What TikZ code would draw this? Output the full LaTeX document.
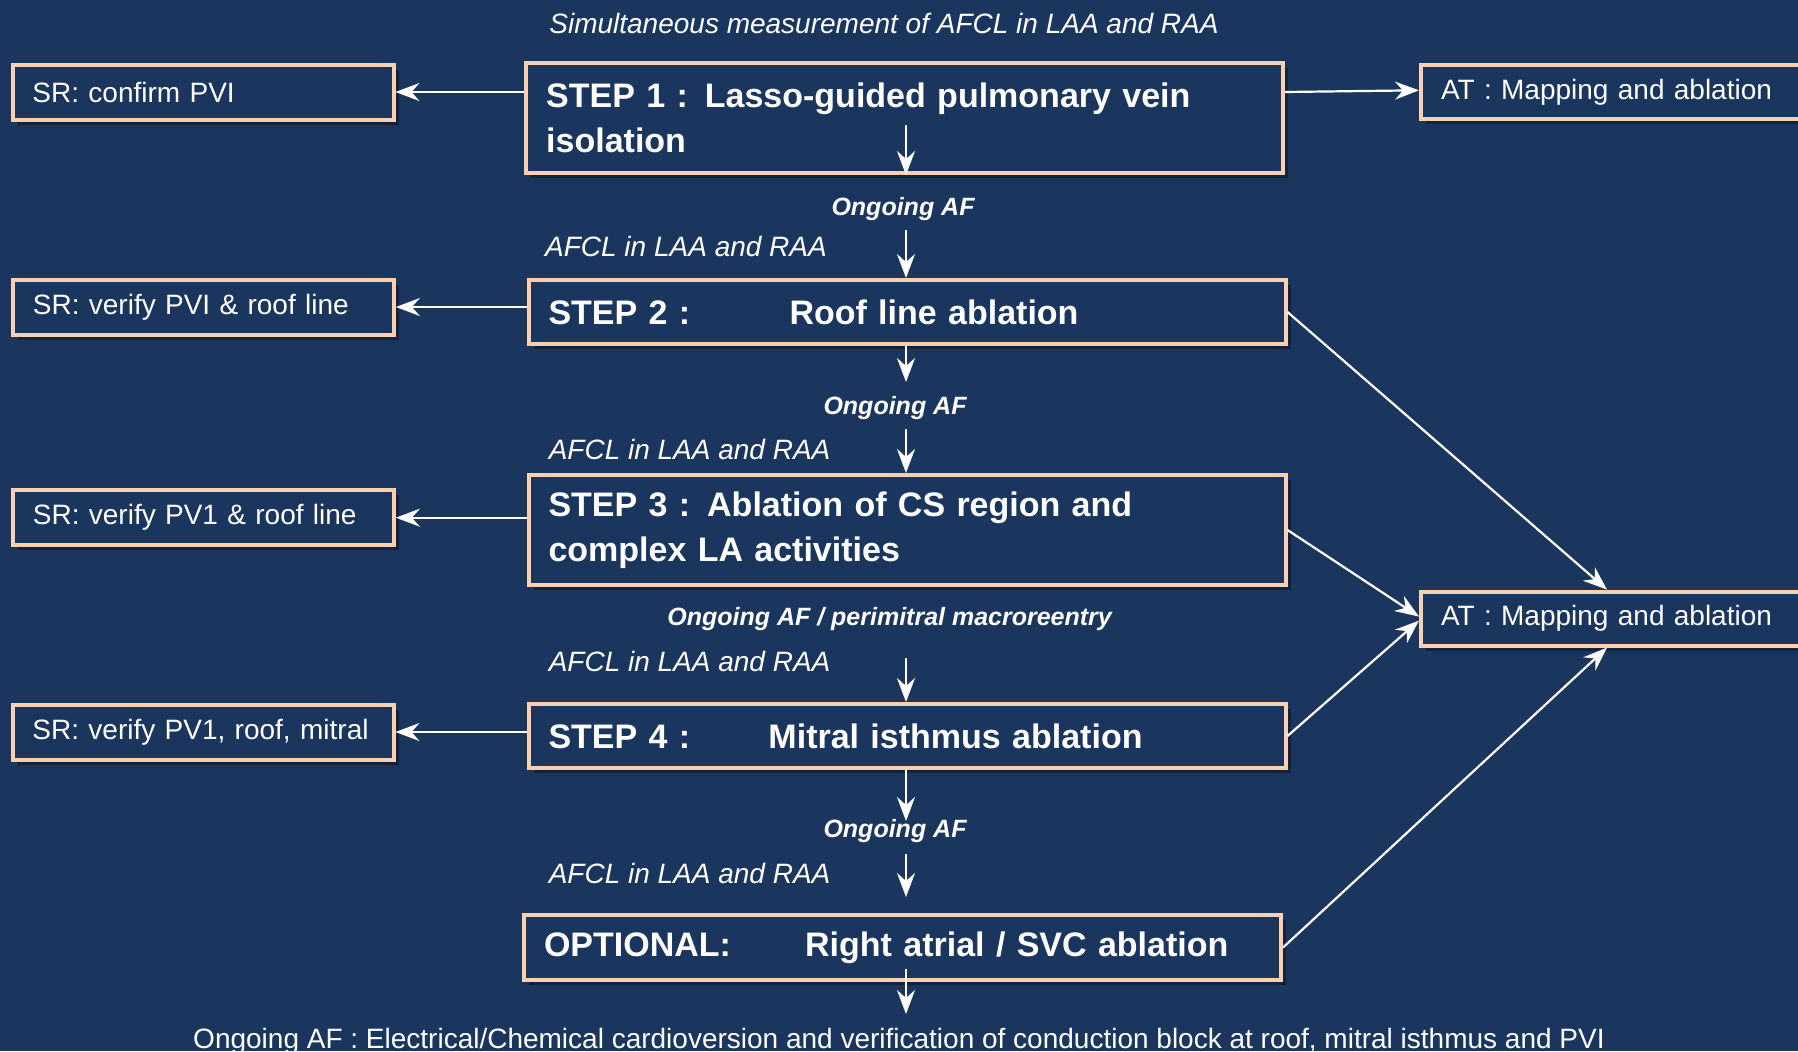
\documentclass[tikz,border=0pt]{standalone}
\usepackage{fontspec}
\setmainfont{Liberation Sans}
\usetikzlibrary{arrows.meta,shadows,calc}
\definecolor{bg}{RGB}{27,54,94}
\definecolor{peach}{RGB}{250,208,176}
\begin{document}
\begin{tikzpicture}[x=0.5pt,y=-0.5pt,
  box/.style={draw=peach, line width=2pt, fill=bg, text=white, inner xsep=10pt, inner ysep=0pt, align=left, anchor=center,
    drop shadow={shadow xshift=2.5pt, shadow yshift=-2.5pt, fill=black, opacity=0.35}},
  stepbox/.style={box, text width=358.5pt, font=\fontsize{17}{22.5}\selectfont\bfseries},
  srbox/.style={box, text width=170.5pt, minimum height=27.5pt, font=\fontsize{14}{17}\selectfont},
  atbox/.style={box, text width=200pt, minimum height=27pt, font=\fontsize{14}{17}\selectfont},
  lbl/.style={text=white, inner sep=0pt, font=\fontsize{14}{17}\selectfont\itshape},
  ong/.style={text=white, inner sep=0pt, font=\fontsize{12.5}{15}\selectfont\bfseries\itshape},
  foot/.style={text=white, inner sep=0pt, font=\fontsize{14}{17}\selectfont},
  arr/.style={draw=white, line width=1.1pt, -{Stealth[length=12pt,width=9pt,inset=4pt]}},
]
\useasboundingbox (0,0) rectangle (1798,1051);
\clip (0,0) rectangle (1798,1051);
\fill[bg] (0,0) rectangle (1798,1051);

% title
\node[lbl] (title) at (884,23) {Simultaneous measurement of AFCL in LAA and RAA};

% main steps
\node[stepbox, minimum height=55pt] (step1) at (904.7,118) {STEP 1 : Lasso-guided pulmonary vein\\isolation};
\node[stepbox, minimum height=32pt] (step2) at (907,312) {\makebox[120.5pt][l]{STEP 2 :}Roof line ablation};
\node[stepbox, minimum height=55pt] (step3) at (907,530) {STEP 3 : Ablation of CS region and\\complex LA activities};
\node[stepbox, minimum height=32pt] (step4) at (907,736) {\makebox[110pt][l]{STEP 4 :}Mitral isthmus ablation};
\node[stepbox, minimum height=32.5pt] (opt) at (902.5,947.5) {\makebox[130.6pt][l]{OPTIONAL:}Right atrial / SVC ablation};

% SR boxes
\node[srbox] (sr1) at (203,92) {SR: confirm PVI};
\node[srbox] (sr2) at (203.4,307) {SR: verify PVI \& roof line};
\node[srbox] (sr3) at (203.4,517.7) {SR: verify PV1 \& roof line};
\node[srbox] (sr4) at (203,732) {SR: verify PV1, roof, mitral};

% AT boxes
\node[atbox] (at1) at (1641,92.3) {AT : Mapping and ablation};
\node[atbox] (at2) at (1641,618.6) {AT : Mapping and ablation};

% labels
\node[ong] (o1) at (903,209) {Ongoing AF};
\node[lbl] (a1) at (686,246) {AFCL in LAA and RAA};
\node[ong] (o2) at (895,408) {Ongoing AF};
\node[lbl] (a2) at (689.6,449) {AFCL in LAA and RAA};
\node[ong] (o3) at (889.6,619) {Ongoing AF / perimitral macroreentry};
\node[lbl] (a3) at (689.6,661) {AFCL in LAA and RAA};
\node[ong] (o4) at (895,831) {Ongoing AF};
\node[lbl] (a4) at (689.6,873) {AFCL in LAA and RAA};
\node[foot] (foot) at (899,1041) {Ongoing AF : Electrical/Chemical cardioversion and verification of conduction block at roof, mitral isthmus and PVI};

% free-end coordinates for vertical arrows
\coordinate (v1) at (906,125);
\coordinate (v2) at (906,230);
\coordinate (v3) at (906,382);
\coordinate (v4) at (906,429);
\coordinate (v5) at (906,658);
\coordinate (v6) at (906,821);
\coordinate (v7) at (906,854);
\coordinate (v8) at (906,897);
\coordinate (v9) at (906,969);
\coordinate (v10) at (906,1014);

% vertical arrows
\draw[arr] (v1) -- (v1 |- step1.south);
\draw[arr] (v2) -- (v2 |- step2.north);
\draw[arr] (v3 |- step2.south) -- (v3);
\draw[arr] (v4) -- (v4 |- step3.north);
\draw[arr] (v5) -- (v5 |- step4.north);
\draw[arr] (v6 |- step4.south) -- (v6);
\draw[arr] (v7) -- (v8);
\draw[arr] (v9) -- (v10);

% to SR boxes
\draw[arr] (sr1.east -| step1.west) -- (sr1.east);
\draw[arr] (sr2.east -| step2.west) -- (sr2.east);
\draw[arr] (sr3.east -| step3.west) -- (sr3.east);
\draw[arr] (sr4.east -| step4.west) -- (sr4.east);

% to AT boxes
\draw[arr] ($(step1.east)+(0,-26)$) -- ($(at1.west)+(0,-2)$);
\draw[arr] (step2.east) -- ($(at2.north west)+(188,0)$);
\draw[arr] (step3.east) -- ($(at2.west)+(0,-2)$);
\draw[arr] (step4.east) -- ($(at2.west)+(0,2)$);
\draw[arr] (opt.east) -- ($(at2.south west)+(188,0)$);
\end{tikzpicture}
\end{document}
